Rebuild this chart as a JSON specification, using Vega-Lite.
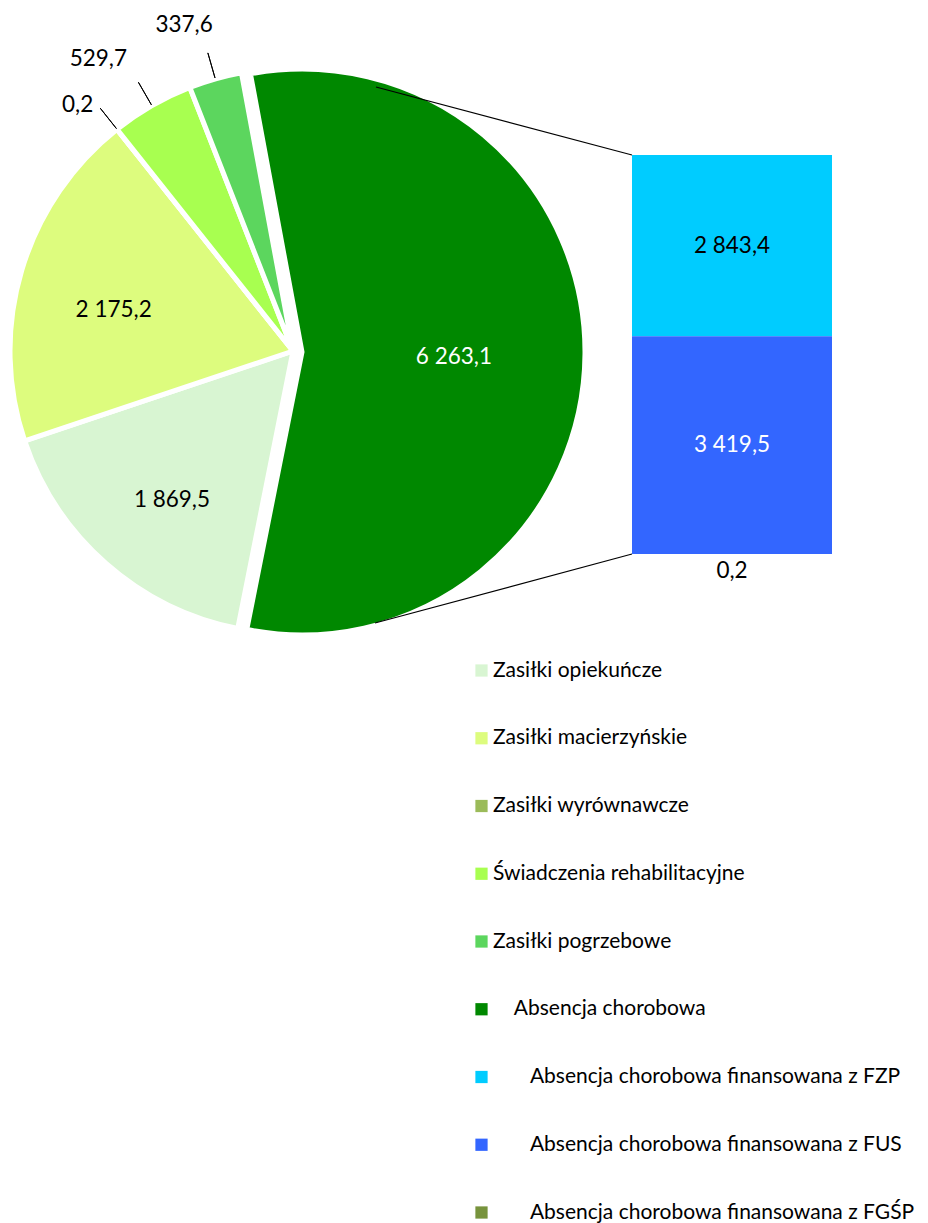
{
  "$schema": "https://vega.github.io/schema/vega-lite/v6.json",
  "width": 928,
  "height": 1223,
  "autosize": {"type": "none"},
  "padding": 0,
  "background": "white",
  "config": {
    "view": {"stroke": null},
    "font": "Lato",
    "text": {"font": "Lato", "fontSize": 22.5}
  },
  "datasets": {
    "pie": [
      {"cat": "Absencja chorobowa", "value": 6263.1, "label": "6 263,1", "ord": 1},
      {"cat": "Zasiłki opiekuńcze", "value": 1869.5, "label": "1 869,5", "ord": 2},
      {"cat": "Zasiłki macierzyńskie", "value": 2175.2, "label": "2 175,2", "ord": 3},
      {"cat": "Zasiłki wyrównawcze", "value": 0.2, "label": "0,2", "ord": 4},
      {"cat": "Świadczenia rehabilitacyjne", "value": 529.7, "label": "529,7", "ord": 5},
      {"cat": "Zasiłki pogrzebowe", "value": 337.6, "label": "337,6", "ord": 6}
    ],
    "bar": [
      {"grp": "Absencja chorobowa", "cat": "Absencja chorobowa finansowana z FZP", "value": 2843.4, "label": "2 843,4", "ord": 3},
      {"grp": "Absencja chorobowa", "cat": "Absencja chorobowa finansowana z FUS", "value": 3419.5, "label": "3 419,5", "ord": 2},
      {"grp": "Absencja chorobowa", "cat": "Absencja chorobowa finansowana z FGŚP", "value": 0.2, "label": "0,2", "ord": 1}
    ]
  },
  "layer": [
    {
      "data": {"name": "pie"},
      "mark": {"type": "arc", "x": 293, "y": 351, "radius": 283, "stroke": "white", "strokeWidth": 5},
      "encoding": {
        "theta": {"field": "value", "type": "quantitative", "stack": true, "scale": {"range": [-0.1833, 6.0999]}},
        "order": {"field": "ord", "type": "quantitative"},
        "color": {
          "field": "cat",
          "type": "nominal",
          "scale": {
            "domain": ["Zasiłki opiekuńcze", "Zasiłki macierzyńskie", "Zasiłki wyrównawcze", "Świadczenia rehabilitacyjne", "Zasiłki pogrzebowe", "Absencja chorobowa", "Absencja chorobowa finansowana z FZP", "Absencja chorobowa finansowana z FUS", "Absencja chorobowa finansowana z FGŚP"],
            "range": ["#D8F5D2", "#DDFC7E", "#9BBB59", "#A8FF50", "#5CD65E", "#008800", "#00CCFF", "#3366FF", "#77933C"]
          },
          "legend": {
            "title": null,
            "orient": "none",
            "legendX": 471,
            "legendY": 660,
            "direction": "vertical",
            "symbolType": "square",
            "symbolSize": 150,
            "symbolStrokeWidth": 0,
            "labelFont": "Lato",
            "labelFontSize": 21,
            "labelColor": "black",
            "labelLimit": 0,
            "labelOffset": 1,
            "rowPadding": 45.75,
            "padding": 0,
            "labelExpr": "indexof(datum.label, 'finansowana') >= 0 ? '\u200b\u00a0\u00a0\u00a0\u00a0\u00a0\u00a0\u00a0' + datum.label : (datum.label === 'Absencja chorobowa' ? '\u200b\u00a0\u00a0\u00a0\u00a0' + datum.label : datum.label)"
          }
        },
        "opacity": {"condition": {"test": "datum.cat === 'Absencja chorobowa'", "value": 0}, "value": 1}
      }
    },
    {
      "data": {"name": "pie"},
      "mark": {"type": "arc", "x": 302, "y": 352, "radius": 283, "stroke": "white", "strokeWidth": 5},
      "encoding": {
        "theta": {"field": "value", "type": "quantitative", "stack": true},
        "order": {"field": "ord", "type": "quantitative"},
        "color": {"field": "cat", "type": "nominal"},
        "opacity": {"condition": {"test": "datum.cat === 'Absencja chorobowa'", "value": 1}, "value": 0}
      }
    },
    {
      "data": {"name": "pie"},
      "mark": {"type": "arc", "x": 293, "y": 351, "radius": 310, "radius2": 284, "padAngle": 0.3, "filled": false, "color": "black", "strokeWidth": 1},
      "encoding": {
        "theta": {"field": "value", "type": "quantitative", "stack": true},
        "order": {"field": "ord", "type": "quantitative"},
        "opacity": {"condition": {"test": "datum.ord >= 4", "value": 1}, "value": 0}
      }
    },
    {
      "data": {"name": "pie"},
      "mark": {"type": "text", "x": 293, "y": 351, "radius": 184, "thetaOffset": -0.063, "color": "black"},
      "encoding": {
        "theta": {"field": "value", "type": "quantitative", "stack": true},
        "order": {"field": "ord", "type": "quantitative"},
        "text": {"condition": {"test": "datum.cat === 'Zasiłki macierzyńskie'", "field": "label"}, "value": ""}
      }
    },
    {
      "data": {"name": "pie"},
      "mark": {"type": "text", "x": 293, "y": 351, "radius": 192, "thetaOffset": -0.04, "color": "black"},
      "encoding": {
        "theta": {"field": "value", "type": "quantitative", "stack": true},
        "order": {"field": "ord", "type": "quantitative"},
        "text": {"condition": {"test": "datum.cat === 'Zasiłki opiekuńcze'", "field": "label"}, "value": ""}
      }
    },
    {
      "data": {"name": "pie"},
      "mark": {"type": "text", "x": 302, "y": 352, "radius": 152, "thetaOffset": 0.026, "color": "white"},
      "encoding": {
        "theta": {"field": "value", "type": "quantitative", "stack": true},
        "order": {"field": "ord", "type": "quantitative"},
        "text": {"condition": {"test": "datum.cat === 'Absencja chorobowa'", "field": "label"}, "value": ""}
      }
    },
    {
      "data": {"name": "pie"},
      "mark": {"type": "text", "x": 293, "y": 351, "radius": 327, "thetaOffset": -0.048, "color": "black"},
      "encoding": {
        "theta": {"field": "value", "type": "quantitative", "stack": true},
        "order": {"field": "ord", "type": "quantitative"},
        "text": {"condition": {"test": "datum.cat === 'Zasiłki wyrównawcze'", "field": "label"}, "value": ""}
      }
    },
    {
      "data": {"name": "pie"},
      "mark": {"type": "text", "x": 293, "y": 351, "radius": 351, "thetaOffset": -0.066, "color": "black"},
      "encoding": {
        "theta": {"field": "value", "type": "quantitative", "stack": true},
        "order": {"field": "ord", "type": "quantitative"},
        "text": {"condition": {"test": "datum.cat === 'Świadczenia rehabilitacyjne'", "field": "label"}, "value": ""}
      }
    },
    {
      "data": {"name": "pie"},
      "mark": {"type": "text", "x": 293, "y": 351, "radius": 344, "thetaOffset": -0.044, "color": "black"},
      "encoding": {
        "theta": {"field": "value", "type": "quantitative", "stack": true},
        "order": {"field": "ord", "type": "quantitative"},
        "text": {"condition": {"test": "datum.cat === 'Zasiłki pogrzebowe'", "field": "label"}, "value": ""}
      }
    },
    {
      "data": {"name": "bar"},
      "mark": {"type": "bar"},
      "encoding": {
        "x": {"field": "grp", "type": "nominal", "scale": {"range": [632, 832], "paddingInner": 0, "paddingOuter": 0}, "axis": null},
        "y": {"field": "value", "type": "quantitative", "stack": "zero", "scale": {"domain": [0, 6263.1], "range": [554, 155], "nice": false}, "axis": null},
        "order": {"field": "ord", "type": "quantitative"},
        "color": {"field": "cat", "type": "nominal"}
      }
    },
    {
      "data": {"name": "bar"},
      "transform": [
        {"stack": "value", "groupby": ["grp"], "sort": [{"field": "ord", "order": "ascending"}], "as": ["v0", "v1"]},
        {"calculate": "(datum.v0 + datum.v1) / 2", "as": "mid"},
        {"filter": "datum.ord > 1"}
      ],
      "mark": {"type": "text", "baseline": "middle", "align": "center"},
      "encoding": {
        "x": {"field": "grp", "type": "nominal"},
        "y": {"field": "mid", "type": "quantitative"},
        "text": {"field": "label"},
        "color": {"condition": {"test": "datum.ord === 2", "value": "white"}, "value": "black"}
      }
    },
    {
      "data": {"name": "bar"},
      "transform": [
        {"stack": "value", "groupby": ["grp"], "sort": [{"field": "ord", "order": "ascending"}], "as": ["v0", "v1"]},
        {"filter": "datum.ord === 1"}
      ],
      "mark": {"type": "text", "baseline": "top", "align": "center", "dy": 6, "color": "black"},
      "encoding": {
        "x": {"field": "grp", "type": "nominal"},
        "y": {"field": "v1", "type": "quantitative"},
        "text": {"field": "label"}
      }
    },
    {
      "data": {"values": [{"k": "top"}]},
      "mark": {"type": "rule", "color": "black", "strokeWidth": 1.2},
      "encoding": {
        "x": {"value": 376},
        "y": {"value": 87},
        "x2": {"value": 632},
        "y2": {"value": 155}
      }
    },
    {
      "data": {"values": [{"k": "bottom"}]},
      "mark": {"type": "rule", "color": "black", "strokeWidth": 1.2},
      "encoding": {
        "x": {"value": 375},
        "y": {"value": 623},
        "x2": {"value": 632},
        "y2": {"value": 554}
      }
    }
  ]
}
